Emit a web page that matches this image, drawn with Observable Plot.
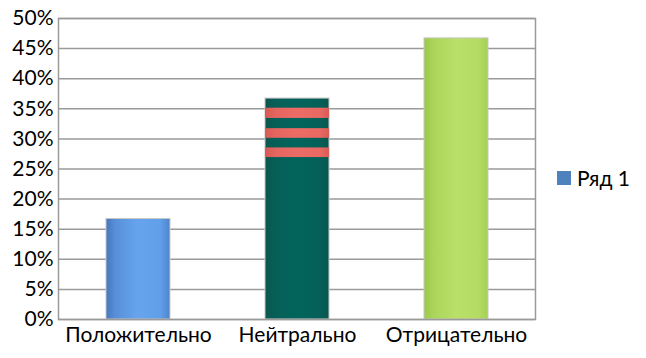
<!DOCTYPE html>
<html><head><meta charset="utf-8">
<script src="https://cdn.jsdelivr.net/npm/d3@7"></script>
<script src="https://cdn.jsdelivr.net/npm/@observablehq/plot@0.6"></script>
<style>
body{margin:0;background:#fff;font-family:Lato,"Liberation Sans",sans-serif;}
#wrap{position:relative;width:646px;height:358px;}
#legend{position:absolute;left:557px;top:165px;display:flex;align-items:center;font-size:21px;color:#000;}
#legend span.sw{display:inline-block;width:14px;height:14px;background:#4f81bd;margin-right:6px;}
</style>
</head><body>
<div id="wrap"><div id="legend"><span class="sw"></span><span>Ряд 1</span></div></div>
<script>
const categories = ["Положительно", "Нейтрально", "Отрицательно"];
const values = [16.7, 36.7, 46.7];
const gradients = ["url(#gBlue)", "url(#gTeal)", "url(#gGreen)"];
const yTicks = [0, 5, 10, 15, 20, 25, 30, 35, 40, 45, 50];
const seriesName = "Ряд 1";
// red bands on the middle bar (value ranges, %)
const stripeCategory = "Нейтрально";
const stripeLow = [33.4, 30.1, 26.9];
const stripeHigh = [35.1, 31.7, 28.5];

const data = categories.map((c, i) => ({cat: c, v: values[i], g: gradients[i]}));
const stripes = stripeLow.map((lo, i) => ({cat: stripeCategory, y1: lo, y2: stripeHigh[i]}));

const chart = Plot.plot({
  width: 646, height: 358,
  marginLeft: 58, marginRight: 111, marginTop: 18, marginBottom: 39,
  style: {fontFamily: "Lato, 'Liberation Sans', sans-serif", fontSize: "21px", color: "#000", background: "#fff"},
  x: {domain: categories, paddingInner: 0.6, paddingOuter: 0.3, label: null, tickSize: 0, tickPadding: 8},
  y: {domain: [0, 50], ticks: yTicks, tickFormat: d => d + "%", label: null, tickSize: 0, tickPadding: 5},
  color: {type: "identity"},
  marks: [
    Plot.ruleY(yTicks, {stroke: "#9a9a9a", strokeWidth: 1.5}),
    Plot.barY(data, {x: "cat", y: "v", fill: "g", stroke: "#c8c8c8", strokeWidth: 1}),
    Plot.rectY(stripes, {x: "cat", y1: "y1", y2: "y2", fill: "url(#gRed)"}),
    Plot.ruleX([0], {frameAnchor: "left", stroke: "#9a9a9a", strokeWidth: 2}),
    Plot.frame({stroke: "#9a9a9a", strokeWidth: 1.5})
  ]
});

const ns = "http://www.w3.org/2000/svg";
const defs = document.createElementNS(ns, "defs");
function grad(id, stops) {
  const g = document.createElementNS(ns, "linearGradient");
  g.setAttribute("id", id);
  g.setAttribute("x1", "0"); g.setAttribute("x2", "1"); g.setAttribute("y1", "0"); g.setAttribute("y2", "0");
  stops.forEach(([o, c]) => {
    const s = document.createElementNS(ns, "stop");
    s.setAttribute("offset", o); s.setAttribute("stop-color", c);
    g.appendChild(s);
  });
  defs.appendChild(g);
}
grad("gBlue", [["0", "#4677be"], ["0.15", "#5890d8"], ["0.5", "#66a5ee"], ["0.85", "#619fe8"], ["1", "#4e84cc"]]);
grad("gTeal", [["0", "#0a564e"], ["0.15", "#075f57"], ["0.5", "#02655d"], ["0.85", "#046058"], ["1", "#0a564e"]]);
grad("gGreen", [["0", "#9cc84a"], ["0.15", "#abd55a"], ["0.5", "#b9e068"], ["0.85", "#b4dc63"], ["1", "#a6cf55"]]);
grad("gRed", [["0", "#d65a55"], ["0.15", "#e4645f"], ["0.5", "#ee6c66"], ["0.85", "#ea6963"], ["1", "#d85c57"]]);
chart.insertBefore(defs, chart.firstChild);

document.getElementById("wrap").prepend(chart);
chart.style.position = "absolute"; chart.style.left = "0"; chart.style.top = "0";
</script>
</body></html>
